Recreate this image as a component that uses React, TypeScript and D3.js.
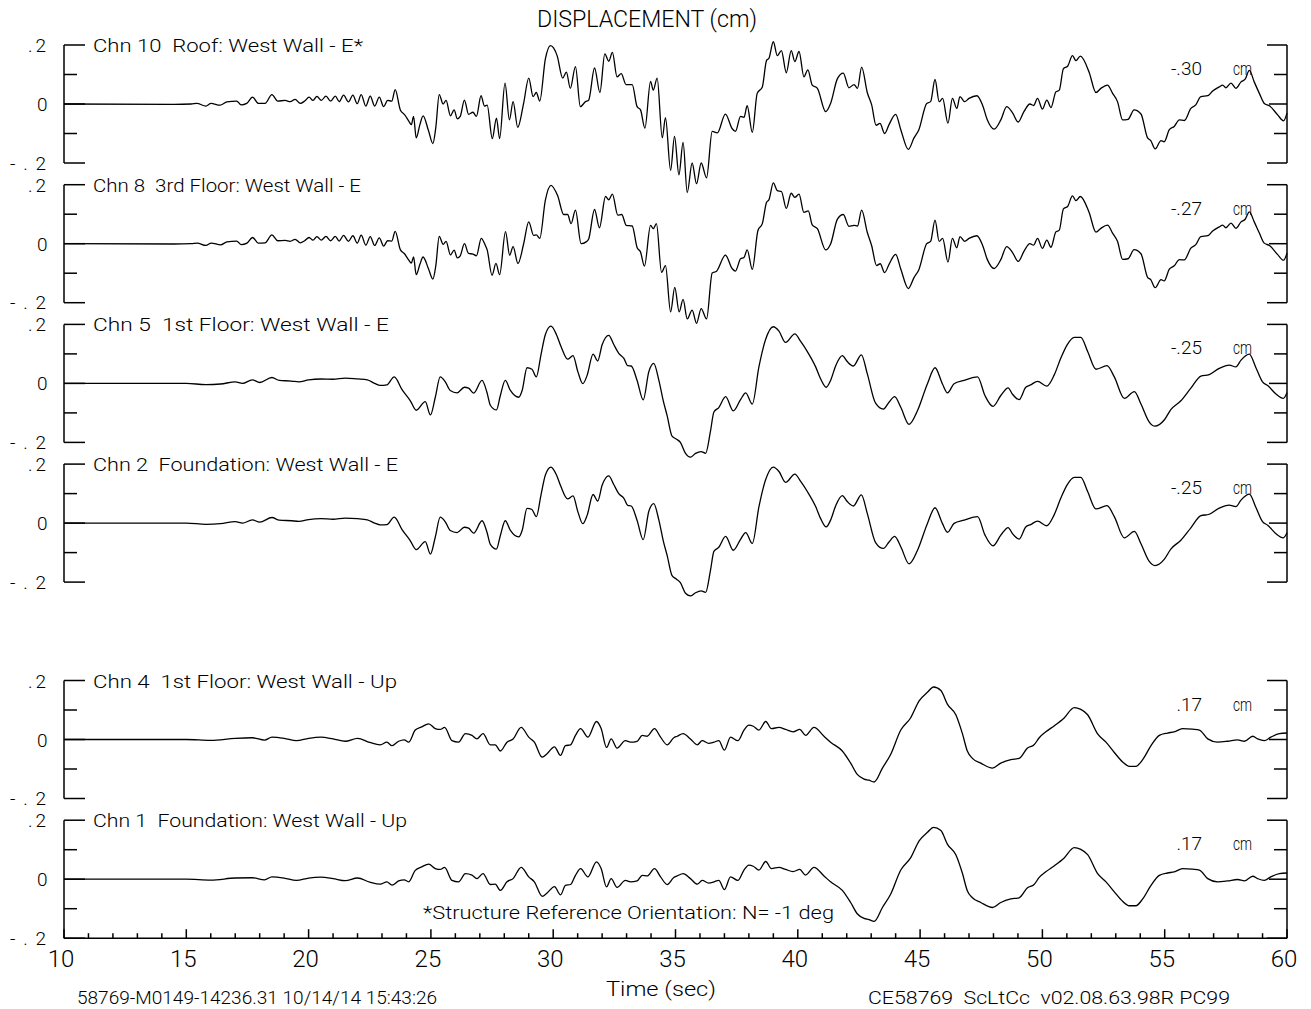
import React from 'react';
import * as d3 from 'd3';

type Pt = [number, number];

const titleText = 'DISPLACEMENT (cm)';
const xTicks = [10, 15, 20, 25, 30, 35, 40, 45, 50, 55, 60];
const yTickLabels: [number, string][] = [[0.2, '.2'], [0, '0'], [-0.2, '-.2']];
const channelLabels = [
  'Chn 10  Roof: West Wall - E*',
  'Chn 8  3rd Floor: West Wall - E',
  'Chn 5  1st Floor: West Wall - E',
  'Chn 2  Foundation: West Wall - E',
  'Chn 4  1st Floor: West Wall - Up',
  'Chn 1  Foundation: West Wall - Up',
];
const peakLabels = ['-.30', '-.27', '-.25', '-.25', '.17', '.17'];
const noteText = '*Structure Reference Orientation: N= -1 deg';
const xAxisTitle = 'Time (sec)';
const footerLeft = '58769-M0149-14236.31 10/14/14 15:43:26';
const footerRight = 'CE58769  ScLtCc  v02.08.63.98R PC99';

const chn10: Pt[] = [
  [10, 0], [14.5, -0.001], [15.2, 0], [15.43, 0.002], [15.8, -0.007], [16.01, 0.002], [16.38, -0.004], [16.66, 0.007],
  [17.06, 0.01], [17.24, -0.003], [17.47, 0.002], [17.71, 0.023], [17.95, 0.002], [18.22, 0.002], [18.5, 0.032],
  [18.74, 0.01], [19.04, 0.012], [19.25, 0.008], [19.45, 0.016], [19.66, 0.002], [19.84, 0.01], [20.02, 0.023],
  [20.18, 0.012], [20.34, 0.026], [20.52, 0.012], [20.71, 0.027], [20.9, 0.01], [21.09, 0.027], [21.25, 0.008],
  [21.43, 0.03], [21.63, 0.007], [21.81, 0.03], [21.99, 0.001], [22.15, 0.032], [22.34, -0.007], [22.52, 0.027],
  [22.7, -0.007], [22.89, 0.023], [23.07, -0.009], [23.23, 0.012], [23.4, 0.01], [23.54, 0.049], [23.75, -0.02],
  [23.93, -0.037], [24.09, -0.057], [24.2, -0.07], [24.29, -0.042], [24.4, -0.115], [24.55, -0.07], [24.68, -0.04],
  [24.9, -0.09], [25.08, -0.134], [25.2, -0.08], [25.34, 0.032], [25.5, 0.0], [25.62, 0.012], [25.8, -0.04],
  [25.95, -0.02], [26.08, -0.05], [26.2, -0.042], [26.37, 0.013], [26.54, -0.035], [26.72, -0.028], [26.86, -0.042],
  [27.05, 0.028], [27.19, -0.007], [27.3, -0.004], [27.51, -0.117], [27.68, -0.048], [27.81, -0.117], [28.03, 0.071],
  [28.21, -0.054], [28.36, 0.008], [28.55, -0.079], [28.79, 0.002], [29.0, 0.088], [29.18, 0.025], [29.31, 0.039],
  [29.45, 0.01], [29.68, 0.153], [29.89, 0.198], [30.16, 0.164], [30.39, 0.088], [30.54, 0.108], [30.7, 0.053],
  [30.91, 0.127], [31.11, -0.009], [31.32, 0.008], [31.45, 0.013], [31.69, 0.122], [31.91, 0.039], [32.11, 0.17],
  [32.27, 0.145], [32.42, 0.175], [32.61, 0.092], [32.78, 0.103], [32.98, 0.066], [33.23, 0.066], [33.43, -0.009],
  [33.57, -0.02], [33.75, -0.082], [33.98, 0.077], [34.09, 0.047], [34.25, 0.088], [34.46, -0.115], [34.59, -0.046],
  [34.8, -0.225], [34.96, -0.11], [35.14, -0.24], [35.31, -0.13], [35.48, -0.3], [35.68, -0.2], [35.86, -0.27],
  [36.05, -0.2], [36.27, -0.25], [36.5, -0.093], [36.71, -0.098], [37.04, -0.034], [37.32, -0.084], [37.45, -0.093],
  [37.66, -0.042], [37.8, -0.045], [37.93, -0.006], [38.14, -0.096], [38.34, 0.036], [38.55, 0.058], [38.72, 0.147],
  [38.82, 0.155], [39.0, 0.211], [39.16, 0.164], [39.33, 0.181], [39.53, 0.106], [39.73, 0.181], [39.88, 0.144],
  [40.05, 0.178], [40.25, 0.092], [40.41, 0.116], [40.59, 0.064], [40.8, 0.053], [41.14, -0.026], [41.34, 0.002],
  [41.62, 0.086], [41.86, 0.105], [42.09, 0.055], [42.3, 0.066], [42.44, 0.053], [42.61, 0.125], [42.84, 0.039],
  [43.02, -0.003], [43.2, -0.072], [43.36, -0.066], [43.55, -0.1], [43.73, -0.07], [44.0, -0.035], [44.21, -0.087],
  [44.52, -0.154], [44.75, -0.115], [44.95, -0.087], [45.27, 0.002], [45.43, 0.008], [45.61, 0.083], [45.78, 0.008],
  [45.92, 0.019], [46.14, -0.065], [46.32, 0.019], [46.5, -0.015], [46.63, 0.025], [46.82, 0.008], [47.0, 0.019],
  [47.32, 0.028], [47.55, -0.003], [47.75, -0.054], [48.03, -0.085], [48.3, -0.054], [48.54, -0.009], [48.78, -0.03],
  [49.01, -0.061], [49.25, -0.025], [49.49, 0], [49.64, -0.005], [49.8, 0.019], [50.0, -0.017], [50.18, 0.013],
  [50.35, -0.012], [50.55, 0.041], [50.69, 0.047], [50.86, 0.12], [51.03, 0.128], [51.23, 0.164], [51.37, 0.147],
  [51.55, 0.162], [51.91, 0.108], [52.19, 0.039], [52.39, 0.053], [52.66, 0.064], [52.87, 0.036], [53.07, 0.008],
  [53.28, -0.054], [53.5, -0.052], [53.75, -0.02], [54.03, -0.034], [54.3, -0.115], [54.43, -0.124], [54.61, -0.152],
  [54.85, -0.124], [54.98, -0.128], [55.19, -0.087], [55.39, -0.076], [55.6, -0.054], [55.8, -0.056], [56.07, -0.015],
  [56.27, -0.003], [56.48, 0.025], [56.76, 0.028], [56.96, 0.044], [57.23, 0.058], [57.37, 0.064], [57.5, 0.055],
  [57.71, 0.071], [57.91, 0.053], [58.12, 0.075], [58.29, 0.084], [58.46, 0.114], [58.66, 0.075], [58.87, 0.036],
  [59.07, 0.002], [59.28, -0.006], [59.62, -0.037], [59.86, -0.057], [60, -0.031],
];

const chn8: Pt[] = [
  [10, 0], [14.5, -0.001], [15.2, 0], [15.45, 0.002], [15.8, -0.006], [16.02, 0.002], [16.4, -0.004], [16.66, 0.006],
  [17.06, 0.009], [17.25, -0.003], [17.48, 0.002], [17.71, 0.021], [17.95, 0.002], [18.22, 0.003], [18.5, 0.03],
  [18.74, 0.01], [19.04, 0.011], [19.25, 0.008], [19.45, 0.015], [19.66, 0.003], [19.84, 0.01], [20.02, 0.021],
  [20.18, 0.012], [20.34, 0.024], [20.52, 0.012], [20.71, 0.025], [20.9, 0.01], [21.09, 0.025], [21.25, 0.009],
  [21.43, 0.028], [21.63, 0.008], [21.81, 0.027], [21.99, 0.002], [22.15, 0.029], [22.34, -0.005], [22.52, 0.024],
  [22.7, -0.006], [22.89, 0.02], [23.07, -0.008], [23.23, 0.01], [23.4, 0.009], [23.54, 0.042], [23.75, -0.02],
  [23.93, -0.035], [24.09, -0.055], [24.2, -0.066], [24.29, -0.045], [24.4, -0.105], [24.55, -0.07], [24.68, -0.045],
  [24.9, -0.085], [25.08, -0.12], [25.2, -0.075], [25.34, 0.025], [25.5, -0.002], [25.62, 0.008], [25.8, -0.038],
  [25.95, -0.022], [26.08, -0.048], [26.2, -0.041], [26.37, 0], [26.54, -0.033], [26.72, -0.035], [26.86, -0.041],
  [27.06, 0.018], [27.23, -0.007], [27.3, -0.021], [27.5, -0.107], [27.66, -0.067], [27.81, -0.105], [28.05, 0.041],
  [28.22, -0.039], [28.36, -0.01], [28.56, -0.067], [28.79, -0.001], [29.0, 0.074], [29.2, 0.028], [29.31, 0.03],
  [29.45, 0.018], [29.68, 0.148], [29.91, 0.198], [30.18, 0.163], [30.43, 0.099], [30.59, 0.099], [30.73, 0.068],
  [30.91, 0.114], [31.14, 0], [31.36, 0.007], [31.45, 0.016], [31.69, 0.116], [31.89, 0.054], [32.14, 0.16],
  [32.27, 0.149], [32.42, 0.168], [32.64, 0.097], [32.8, 0.099], [32.99, 0.062], [33.23, 0.06], [33.43, -0.013],
  [33.57, -0.028], [33.73, -0.076], [33.98, 0.062], [34.09, 0.051], [34.22, 0.068], [34.43, -0.097], [34.59, -0.074],
  [34.8, -0.231], [34.97, -0.148], [35.15, -0.231], [35.31, -0.189], [35.48, -0.255], [35.68, -0.225], [35.86, -0.27],
  [36.05, -0.22], [36.27, -0.255], [36.5, -0.099], [36.68, -0.093], [37.04, -0.039], [37.32, -0.085], [37.45, -0.093],
  [37.66, -0.051], [37.8, -0.047], [37.93, -0.021], [38.14, -0.087], [38.37, 0.045], [38.55, 0.068], [38.72, 0.14],
  [38.82, 0.149], [39.0, 0.206], [39.16, 0.18], [39.33, 0.177], [39.53, 0.12], [39.73, 0.171], [39.88, 0.157],
  [40.05, 0.168], [40.25, 0.106], [40.43, 0.111], [40.59, 0.064], [40.8, 0.051], [41.14, -0.021], [41.34, -0.001],
  [41.62, 0.083], [41.86, 0.099], [42.09, 0.059], [42.3, 0.062], [42.44, 0.06], [42.61, 0.114], [42.84, 0.039],
  [43.02, -0.007], [43.22, -0.074], [43.37, -0.068], [43.55, -0.098], [43.73, -0.07], [44.0, -0.036], [44.21, -0.086],
  [44.52, -0.152], [44.75, -0.115], [44.95, -0.088], [45.27, 0.0], [45.43, 0.008], [45.61, 0.08], [45.78, 0.008],
  [45.92, 0.018], [46.14, -0.062], [46.32, 0.018], [46.5, -0.014], [46.63, 0.024], [46.82, 0.008], [47.0, 0.018],
  [47.32, 0.027], [47.55, -0.004], [47.75, -0.054], [48.03, -0.084], [48.3, -0.054], [48.54, -0.01], [48.78, -0.03],
  [49.01, -0.06], [49.25, -0.025], [49.49, 0], [49.64, -0.005], [49.8, 0.018], [50.0, -0.016], [50.18, 0.012],
  [50.35, -0.012], [50.55, 0.04], [50.69, 0.046], [50.86, 0.118], [51.03, 0.126], [51.23, 0.162], [51.37, 0.146],
  [51.55, 0.16], [51.91, 0.106], [52.19, 0.039], [52.39, 0.052], [52.66, 0.063], [52.87, 0.036], [53.07, 0.008],
  [53.28, -0.053], [53.5, -0.051], [53.75, -0.02], [54.03, -0.034], [54.3, -0.114], [54.43, -0.122], [54.61, -0.149],
  [54.85, -0.122], [54.98, -0.126], [55.19, -0.086], [55.39, -0.075], [55.6, -0.054], [55.8, -0.055], [56.07, -0.015],
  [56.27, -0.003], [56.48, 0.024], [56.76, 0.027], [56.96, 0.043], [57.23, 0.057], [57.37, 0.063], [57.5, 0.054],
  [57.71, 0.07], [57.91, 0.052], [58.12, 0.074], [58.29, 0.083], [58.46, 0.108], [58.66, 0.074], [58.87, 0.036],
  [59.07, 0.002], [59.28, -0.006], [59.62, -0.037], [59.86, -0.056], [60, -0.032],
];

const chn5: Pt[] = [
  [10, 0], [15, 0], [15.8, -0.004], [16.4, -0.002], [17.0, 0.005], [17.3, 0.0], [17.7, 0.012], [18.0, 0.003],
  [18.5, 0.02], [18.8, 0.01], [19.3, 0.008], [19.6, 0.005], [20.0, 0.012], [20.5, 0.015], [21.0, 0.014], [21.5, 0.018],
  [22.0, 0.015], [22.4, 0.012], [22.7, 0.0], [22.93, -0.007], [23.2, -0.005], [23.5, 0.022], [23.82, -0.021],
  [24.16, -0.059], [24.4, -0.091], [24.77, -0.062], [24.98, -0.107], [25.18, -0.047], [25.38, 0.022], [25.59, 0.005],
  [25.79, -0.024], [26.07, -0.032], [26.37, -0.013], [26.54, -0.016], [26.75, -0.033], [27.09, 0.01], [27.29, -0.03],
  [27.43, -0.074], [27.68, -0.09], [27.84, -0.041], [28.04, 0.01], [28.25, -0.024], [28.59, -0.047], [28.73, -0.024],
  [28.93, 0.053], [29.13, 0.048], [29.31, 0.022], [29.5, 0.097], [29.68, 0.166], [29.91, 0.194], [30.13, 0.166],
  [30.32, 0.125], [30.59, 0.082], [30.81, 0.094], [31.01, 0.039], [31.21, -0.001], [31.39, 0.028], [31.63, 0.099],
  [31.82, 0.076], [32.0, 0.131], [32.27, 0.163], [32.48, 0.131], [32.68, 0.102], [32.89, 0.085], [33.05, 0.06],
  [33.19, 0.059], [33.43, 0.01], [33.68, -0.056], [33.91, 0.04], [34.11, 0.068], [34.32, 0.01], [34.5, -0.059],
  [34.66, -0.11], [34.86, -0.179], [35.04, -0.189], [35.2, -0.2], [35.41, -0.237], [35.61, -0.25], [35.82, -0.237],
  [36.05, -0.231], [36.23, -0.237], [36.43, -0.162], [36.57, -0.097], [36.77, -0.082], [37.05, -0.045], [37.36, -0.093],
  [37.66, -0.055], [37.87, -0.032], [38.14, -0.07], [38.41, 0.056], [38.68, 0.148], [39.0, 0.192], [39.23, 0.177],
  [39.5, 0.139], [39.88, 0.168], [40.11, 0.143], [40.39, 0.108], [40.73, 0.056], [40.93, 0.016], [41.16, -0.013],
  [41.34, 0.01], [41.55, 0.06], [41.82, 0.094], [42.02, 0.074], [42.27, 0.059], [42.6, 0.097], [42.84, 0.033],
  [43.18, -0.067], [43.5, -0.087], [43.73, -0.064], [43.96, -0.045], [44.21, -0.081], [44.55, -0.139], [44.89, -0.093],
  [45.3, -0.001], [45.61, 0.053], [45.91, -0.001], [46.12, -0.032], [46.39, -0.001], [46.8, 0.01], [47.35, 0.022],
  [47.65, -0.041], [47.98, -0.078], [48.3, -0.041], [48.6, -0.015], [48.77, -0.036], [49.05, -0.055], [49.32, -0.013],
  [49.52, -0.005], [49.8, 0.007], [50.18, -0.009], [50.48, 0.028], [50.75, 0.085], [51.03, 0.133], [51.3, 0.156],
  [51.57, 0.156], [51.85, 0.108], [52.19, 0.048], [52.64, 0.06], [52.94, 0.022], [53.35, -0.051], [53.76, -0.028],
  [54.03, -0.07], [54.37, -0.131], [54.6, -0.145], [54.98, -0.124], [55.25, -0.089], [55.66, -0.059], [56.07, -0.016],
  [56.48, 0.025], [56.82, 0.03], [57.23, 0.051], [57.64, 0.062], [57.91, 0.056], [58.12, 0.079], [58.46, 0.099],
  [58.73, 0.053], [59.0, 0.005], [59.21, -0.007], [59.55, -0.036], [59.85, -0.051], [60, -0.032],
];

const chn2: Pt[] = [
  [10, 0], [15, 0], [15.8, -0.004], [16.4, -0.002], [17.0, 0.005], [17.3, 0.0], [17.7, 0.011], [18.0, 0.003],
  [18.5, 0.019], [18.8, 0.01], [19.3, 0.008], [19.6, 0.006], [20.0, 0.012], [20.5, 0.015], [21.0, 0.013], [21.5, 0.017],
  [22.0, 0.015], [22.4, 0.011], [22.7, 0.0], [22.93, -0.006], [23.2, -0.005], [23.5, 0.02], [23.82, -0.022],
  [24.16, -0.06], [24.4, -0.09], [24.77, -0.063], [24.98, -0.105], [25.18, -0.047], [25.38, 0.02], [25.59, 0.004],
  [25.79, -0.025], [26.07, -0.032], [26.37, -0.014], [26.54, -0.017], [26.75, -0.034], [27.09, 0.008], [27.29, -0.03],
  [27.43, -0.072], [27.68, -0.088], [27.84, -0.042], [28.04, 0.008], [28.25, -0.025], [28.59, -0.047], [28.73, -0.025],
  [28.93, 0.05], [29.13, 0.046], [29.31, 0.022], [29.5, 0.095], [29.68, 0.163], [29.91, 0.19], [30.13, 0.164],
  [30.32, 0.123], [30.59, 0.082], [30.81, 0.092], [31.01, 0.038], [31.21, -0.002], [31.39, 0.027], [31.63, 0.097],
  [31.82, 0.075], [32.0, 0.128], [32.27, 0.16], [32.48, 0.13], [32.68, 0.1], [32.89, 0.084], [33.05, 0.06],
  [33.19, 0.058], [33.43, 0.009], [33.68, -0.056], [33.91, 0.04], [34.11, 0.066], [34.32, 0.01], [34.5, -0.06],
  [34.66, -0.11], [34.86, -0.178], [35.04, -0.19], [35.2, -0.202], [35.41, -0.238], [35.61, -0.247], [35.82, -0.236],
  [36.05, -0.23], [36.23, -0.235], [36.43, -0.16], [36.57, -0.096], [36.77, -0.082], [37.05, -0.045], [37.36, -0.092],
  [37.66, -0.055], [37.87, -0.032], [38.14, -0.069], [38.41, 0.055], [38.68, 0.146], [39.0, 0.19], [39.23, 0.175],
  [39.5, 0.138], [39.88, 0.166], [40.11, 0.142], [40.39, 0.107], [40.73, 0.056], [40.93, 0.016], [41.16, -0.013],
  [41.34, 0.01], [41.55, 0.059], [41.82, 0.093], [42.02, 0.073], [42.27, 0.058], [42.6, 0.096], [42.84, 0.033],
  [43.18, -0.066], [43.5, -0.086], [43.73, -0.064], [43.96, -0.045], [44.21, -0.08], [44.55, -0.138], [44.89, -0.093],
  [45.3, -0.001], [45.61, 0.052], [45.91, -0.001], [46.12, -0.031], [46.39, -0.001], [46.8, 0.01], [47.35, 0.022],
  [47.65, -0.04], [47.98, -0.077], [48.3, -0.041], [48.6, -0.015], [48.77, -0.035], [49.05, -0.054], [49.32, -0.013],
  [49.52, -0.005], [49.8, 0.007], [50.18, -0.009], [50.48, 0.028], [50.75, 0.084], [51.03, 0.132], [51.3, 0.155],
  [51.57, 0.155], [51.85, 0.107], [52.19, 0.048], [52.64, 0.059], [52.94, 0.022], [53.35, -0.05], [53.76, -0.028],
  [54.03, -0.07], [54.37, -0.13], [54.6, -0.144], [54.98, -0.123], [55.25, -0.088], [55.66, -0.058], [56.07, -0.016],
  [56.48, 0.025], [56.82, 0.03], [57.23, 0.051], [57.64, 0.061], [57.91, 0.056], [58.12, 0.078], [58.46, 0.098],
  [58.73, 0.053], [59.0, 0.005], [59.21, -0.007], [59.55, -0.036], [59.85, -0.05], [60, -0.033],
];

const chn4: Pt[] = [
  [10, 0], [15, 0], [16, -0.003], [17, 0.004], [17.7, 0.006], [18.2, -0.002], [18.5, 0.008], [19, 0.004],
  [19.5, -0.004], [20, 0.004], [20.5, 0.008], [21, 0.002], [21.5, -0.006], [22, 0.004], [22.5, -0.01],
  [22.93, -0.018], [23.2, -0.009], [23.41, -0.021], [23.68, -0.006], [23.91, -0.001], [24.09, -0.009], [24.36, 0.032],
  [24.63, 0.043], [24.91, 0.053], [25.18, 0.037], [25.38, 0.034], [25.56, 0.041], [25.86, -0.004], [26.13, -0.009],
  [26.41, 0.02], [26.68, 0.014], [26.88, 0.002], [27.13, 0.02], [27.43, -0.018], [27.63, -0.018], [27.84, -0.039],
  [28.11, -0.009], [28.36, 0.002], [28.69, 0.041], [29.0, 0.008], [29.23, -0.009], [29.55, -0.06], [29.75, -0.048],
  [30.05, -0.025], [30.3, -0.054], [30.5, -0.021], [30.71, -0.018], [30.91, 0.014], [31.12, 0.037], [31.42, 0.008],
  [31.77, 0.061], [31.96, 0.037], [32.18, -0.027], [32.37, 0.002], [32.61, -0.029], [32.95, -0.004], [33.16, -0.009],
  [33.43, -0.006], [33.64, 0.014], [33.84, 0.011], [34.14, 0.037], [34.39, 0.008], [34.66, -0.018], [34.93, 0.006],
  [35.07, 0.011], [35.31, 0.02], [35.61, 0.002], [35.89, -0.018], [36.09, -0.004], [36.36, -0.013], [36.57, -0.009],
  [36.77, -0.004], [37.0, -0.036], [37.25, 0.008], [37.55, -0.004], [37.8, 0.032], [38.0, 0.049], [38.18, 0.045],
  [38.41, 0.032], [38.69, 0.061], [38.92, 0.037], [39.23, 0.041], [39.5, 0.034], [39.81, 0.026], [40.08, 0.034],
  [40.32, 0.014], [40.66, 0.041], [41.07, 0.011], [41.34, -0.009], [41.82, -0.039], [42.16, -0.08], [42.43, -0.118],
  [42.71, -0.134], [42.91, -0.138], [43.12, -0.144], [43.46, -0.097], [43.8, -0.05], [44.21, 0.032], [44.61, 0.073],
  [44.96, 0.131], [45.3, 0.16], [45.55, 0.178], [45.85, 0.166], [46.12, 0.119], [46.46, 0.084], [46.73, 0.02],
  [46.93, -0.039], [47.14, -0.064], [47.48, -0.08], [47.96, -0.097], [48.3, -0.08], [48.71, -0.068], [49.05, -0.064],
  [49.39, -0.029], [49.66, -0.018], [49.87, 0.006], [50.14, 0.026], [50.48, 0.046], [50.89, 0.073], [51.3, 0.108],
  [51.57, 0.102], [51.85, 0.084], [52.25, 0.02], [52.6, -0.009], [52.94, -0.044], [53.28, -0.076], [53.55, -0.091],
  [53.82, -0.091], [54.1, -0.068], [54.44, -0.021], [54.78, 0.014], [55.12, 0.022], [55.39, 0.026], [55.73, 0.037],
  [56.14, 0.035], [56.42, 0.032], [56.76, 0.002], [57.16, -0.009], [57.57, -0.006], [57.98, -0.001], [58.26, -0.006],
  [58.6, 0.011], [58.8, 0.002], [59.07, -0.004], [59.34, 0.008], [59.69, 0.02], [60, 0.022],
];

const chn1: Pt[] = [
  [10, 0], [15, 0], [16, -0.003], [17, 0.004], [17.7, 0.005], [18.2, -0.002], [18.5, 0.008], [19, 0.004],
  [19.5, -0.004], [20, 0.004], [20.5, 0.007], [21, 0.002], [21.5, -0.005], [22, 0.004], [22.5, -0.01],
  [22.93, -0.017], [23.2, -0.009], [23.41, -0.02], [23.68, -0.006], [23.91, -0.002], [24.09, -0.009], [24.36, 0.03],
  [24.63, 0.042], [24.91, 0.051], [25.18, 0.036], [25.38, 0.033], [25.56, 0.04], [25.86, -0.004], [26.13, -0.009],
  [26.41, 0.019], [26.68, 0.014], [26.88, 0.002], [27.13, 0.019], [27.43, -0.018], [27.63, -0.017], [27.84, -0.038],
  [28.11, -0.009], [28.36, 0.002], [28.69, 0.04], [29.0, 0.008], [29.23, -0.009], [29.55, -0.058], [29.75, -0.047],
  [30.05, -0.025], [30.3, -0.053], [30.5, -0.021], [30.71, -0.018], [30.91, 0.013], [31.12, 0.036], [31.42, 0.008],
  [31.77, 0.059], [31.96, 0.036], [32.18, -0.026], [32.37, 0.002], [32.61, -0.028], [32.95, -0.004], [33.16, -0.009],
  [33.43, -0.006], [33.64, 0.013], [33.84, 0.011], [34.14, 0.036], [34.39, 0.008], [34.66, -0.018], [34.93, 0.006],
  [35.07, 0.011], [35.31, 0.019], [35.61, 0.002], [35.89, -0.017], [36.09, -0.004], [36.36, -0.013], [36.57, -0.009],
  [36.77, -0.004], [37.0, -0.035], [37.25, 0.008], [37.55, -0.004], [37.8, 0.031], [38.0, 0.048], [38.18, 0.044],
  [38.41, 0.031], [38.69, 0.06], [38.92, 0.036], [39.23, 0.04], [39.5, 0.033], [39.81, 0.026], [40.08, 0.033],
  [40.32, 0.014], [40.66, 0.04], [41.07, 0.011], [41.34, -0.009], [41.82, -0.038], [42.16, -0.079], [42.43, -0.117],
  [42.71, -0.133], [42.91, -0.137], [43.12, -0.143], [43.46, -0.096], [43.8, -0.05], [44.21, 0.031], [44.61, 0.072],
  [44.96, 0.13], [45.3, 0.159], [45.55, 0.176], [45.85, 0.165], [46.12, 0.118], [46.46, 0.083], [46.73, 0.02],
  [46.93, -0.039], [47.14, -0.063], [47.48, -0.079], [47.96, -0.096], [48.3, -0.079], [48.71, -0.067], [49.05, -0.063],
  [49.39, -0.029], [49.66, -0.018], [49.87, 0.006], [50.14, 0.025], [50.48, 0.045], [50.89, 0.072], [51.3, 0.107],
  [51.57, 0.101], [51.85, 0.083], [52.25, 0.02], [52.6, -0.009], [52.94, -0.043], [53.28, -0.075], [53.55, -0.09],
  [53.82, -0.09], [54.1, -0.067], [54.44, -0.021], [54.78, 0.013], [55.12, 0.021], [55.39, 0.025], [55.73, 0.036],
  [56.14, 0.034], [56.42, 0.031], [56.76, 0.002], [57.16, -0.009], [57.57, -0.006], [57.98, -0.001], [58.26, -0.006],
  [58.6, 0.01], [58.8, 0.002], [59.07, -0.004], [59.34, 0.008], [59.69, 0.019], [60, 0.021],
];

const series: Pt[][] = [chn10, chn8, chn5, chn2, chn4, chn1];

const W = 1311;
const H = 1009;
const X0 = 64;
const X1 = 1287;
const panelCenters = [104, 243.7, 383.4, 523.1, 739.5, 879.2];
const HALF = 59;
const labelWidths = [270, 268, 296, 305, 304, 314];
const FONT = "Roboto, 'Liberation Sans', sans-serif";
const FW = 300;

export default function App() {
  const x = d3.scaleLinear().domain([10, 60]).range([X0, X1]);
  const minorSecs = d3.range(10, 61, 1);

  return (
    <svg width={W} height={H} style={{ position: 'absolute', left: 0, top: 0, background: '#fff' }} fontFamily={FONT} fontWeight={FW}>
      <rect x={0} y={0} width={W} height={H} fill="#fff" />
      <text x={537} y={27} fontSize={24} textLength={220} lengthAdjust="spacingAndGlyphs" style={{ whiteSpace: 'pre' }}>{titleText}</text>

      {series.map((data, i) => {
        const c = panelCenters[i];
        const y = d3.scaleLinear().domain([-0.2, 0.2]).range([c + HALF, c - HALF]);
        const line = d3.line<Pt>().x(d => x(d[0])).y(d => y(d[1])).curve(d3.curveMonotoneX);
        const isLast = i === series.length - 1;
        const leftTicks: [number, number][] = [[0.2, 21], [0.1, 13], [0, 21], [-0.1, 13], [-0.2, 21]];
        const rightTicks: [number, number][] = [[0.2, 20], [0.1, 13], [0, 18], [-0.1, 13], [-0.2, 20]];
        return (
          <g key={i}>
            <line x1={X0} x2={X0} y1={y(0.2)} y2={y(-0.2)} stroke="#000" strokeWidth={1.5} />
            <line x1={X1} x2={X1} y1={y(0.2)} y2={y(-0.2)} stroke="#000" strokeWidth={1.5} />
            {leftTicks.map(([v, len]) => (
              <line key={'l' + v} x1={X0} x2={X0 + len} y1={y(v)} y2={y(v)} stroke="#000" strokeWidth={1.5} />
            ))}
            {rightTicks.map(([v, len]) => (
              <line key={'r' + v} x1={X1 - len} x2={X1} y1={y(v)} y2={y(v)} stroke="#000" strokeWidth={1.5} />
            ))}
            {yTickLabels.map(([v, s]) => (
              <text key={'t' + v} x={s === '0' ? 37 : s === '.2' ? 28 : 10} y={y(v) + (v < 0 ? 6.5 : 7)} fontSize={19}
                textLength={s === '0' ? 10 : s === '.2' ? 18 : 36} lengthAdjust="spacing">{s}</text>
            ))}
            <text x={93} y={y(0.2) + 7} fontSize={18} textLength={labelWidths[i]} lengthAdjust="spacingAndGlyphs" style={{ whiteSpace: 'pre' }}>{channelLabels[i]}</text>
            <text x={1202} y={y(0.2) + 30} textAnchor="end" fontSize={19}>{peakLabels[i]}</text>
            <text x={1233} y={y(0.2) + 30} fontSize={19} textLength={19} lengthAdjust="spacingAndGlyphs">cm</text>
            <path d={line(data) || ''} fill="none" stroke="#000" strokeWidth={1.3} strokeLinejoin="round" />
            {isLast && (
              <g>
                <line x1={X0} x2={X1} y1={y(-0.2)} y2={y(-0.2)} stroke="#000" strokeWidth={1.5} />
                {minorSecs.map(s => (
                  <line key={'m' + s} x1={x(s)} x2={x(s)} y1={y(-0.2)} y2={y(-0.2) - (s % 5 === 0 ? 9 : 5)} stroke="#000" strokeWidth={1.5} />
                ))}
                {xTicks.map(t => (
                  <text key={'x' + t} x={x(t) - 3} y={y(-0.2) + 29} textAnchor="middle" fontSize={24}>{t}</text>
                ))}
              </g>
            )}
          </g>
        );
      })}

      <text x={423} y={919} fontSize={18} textLength={411} lengthAdjust="spacingAndGlyphs" style={{ whiteSpace: 'pre' }}>{noteText}</text>
      <text x={606} y={996} fontSize={21} textLength={110} lengthAdjust="spacingAndGlyphs" style={{ whiteSpace: 'pre' }}>{xAxisTitle}</text>
      <text x={77} y={1004} fontSize={18} textLength={360} lengthAdjust="spacingAndGlyphs" style={{ whiteSpace: 'pre' }}>{footerLeft}</text>
      <text x={868} y={1004} fontSize={18} textLength={362} lengthAdjust="spacingAndGlyphs" style={{ whiteSpace: 'pre' }}>{footerRight}</text>
    </svg>
  );
}
